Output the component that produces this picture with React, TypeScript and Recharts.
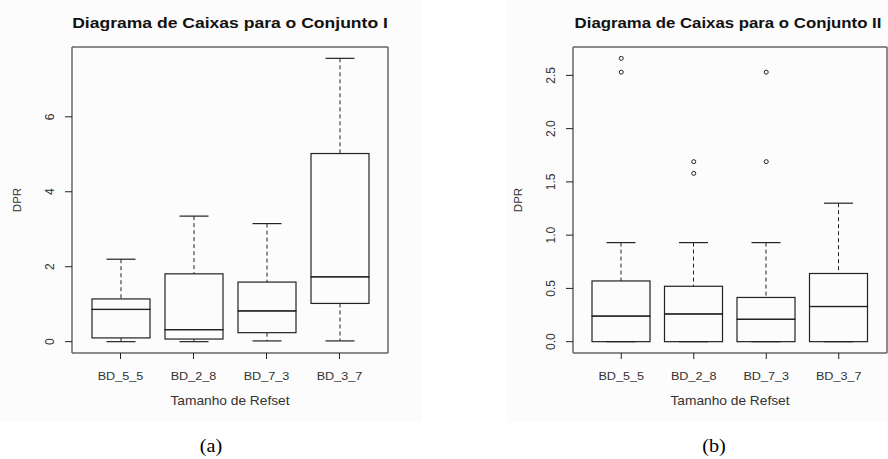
import { Bar, ComposedChart, Label, Line, XAxis, YAxis } from 'recharts';

const categories = ['BD_5_5', 'BD_2_8', 'BD_7_3', 'BD_3_7'];

// Conjunto I
const minI = [0.0, 0.0, 0.02, 0.02];
const q1I = [0.1, 0.07, 0.24, 1.02];
const medianI = [0.86, 0.32, 0.82, 1.73];
const q3I = [1.14, 1.81, 1.59, 5.02];
const maxI = [2.2, 3.35, 3.15, 7.56];
const outliersI: number[][] = [[], [], [], []];
const ticksI = [0, 2, 4, 6];

// Conjunto II
const minII = [0, 0, 0, 0];
const q1II = [0, 0, 0, 0];
const medianII = [0.24, 0.26, 0.21, 0.33];
const q3II = [0.57, 0.52, 0.415, 0.64];
const maxII = [0.93, 0.93, 0.93, 1.3];
const outliersII: number[][] = [[2.66, 2.53], [1.69, 1.58], [2.53, 1.69], []];
const ticksII = [0, 0.5, 1, 1.5, 2, 2.5];

const INK = '#222';
const FRAME = '#666';
const TEXT = '#333';
const SANS = '"Liberation Sans", Arial, sans-serif';
const SX = 1.1;

function buildRows(mins: number[], q1s: number[], meds: number[], q3s: number[], maxs: number[], outs: number[][]) {
  return categories.map((name, i) => ({
    name,
    base: mins[i],
    lowWhisker: q1s[i] - mins[i],
    lowerBox: meds[i] - q1s[i],
    upperBox: q3s[i] - meds[i],
    highWhisker: maxs[i] - q3s[i],
    out1: outs[i][0] ?? null,
    out2: outs[i][1] ?? null,
  }));
}

// R style range: data extent padded by 4% on each side
function rDomain(mins: number[], maxs: number[], outs: number[][]): [number, number] {
  const all = [...mins, ...maxs, ...outs.flat()];
  const lo = Math.min(...all);
  const hi = Math.max(...all);
  const pad = (hi - lo) * 0.04;
  return [lo - pad, hi + pad];
}

const LowWhisker = (p: any) => {
  const cx = p.x + p.width / 2;
  const bottom = p.y + p.height;
  return (
    <g>
      <line x1={cx} x2={cx} y1={p.y} y2={bottom} stroke={INK} strokeDasharray="4 3" />
      <line x1={cx - p.width / 4} x2={cx + p.width / 4} y1={bottom} y2={bottom} stroke={INK} strokeWidth={1.2} />
    </g>
  );
};

const HighWhisker = (p: any) => {
  const cx = p.x + p.width / 2;
  return (
    <g>
      <line x1={cx} x2={cx} y1={p.y} y2={p.y + p.height} stroke={INK} strokeDasharray="4 3" />
      <line x1={cx - p.width / 4} x2={cx + p.width / 4} y1={p.y} y2={p.y} stroke={INK} strokeWidth={1.2} />
    </g>
  );
};

const BoxPart = (p: any) => (
  <rect x={p.x} y={p.y} width={p.width} height={Math.max(p.height, 0)} fill="none" stroke={INK} strokeWidth={1.2} />
);

const OutlierDot = (p: any) => {
  if (p.cy == null || p.value == null || Number.isNaN(p.cy)) return <g key={p.key} />;
  return <circle key={p.key} cx={p.cx} cy={p.cy} r={2} fill="none" stroke={INK} strokeWidth={1} />;
};

const XTick = (p: any) => (
  <text
    transform={`translate(${p.x},${p.y}) scale(${SX},1)`}
    textAnchor="middle"
    fontSize={11.5}
    fontFamily={SANS}
    fill={TEXT}
  >
    {p.payload.value}
  </text>
);

function makeYTick(format: (v: number) => string) {
  return (p: any) => (
    <text
      x={p.x}
      y={p.y}
      transform={`rotate(-90, ${p.x}, ${p.y})`}
      textAnchor="middle"
      fontSize={12}
      fontFamily={SANS}
      fill={TEXT}
    >
      {format(p.payload.value)}
    </text>
  );
}

const DprLabel = (p: any) => {
  const vb = p.viewBox || {};
  const x = vb.x + vb.width - 51;
  const y = vb.y + vb.height / 2;
  return (
    <text x={x} y={y} transform={`rotate(-90, ${x}, ${y})`} textAnchor="middle" fontSize={11.5} fontFamily={SANS} fill={TEXT}>
      DPR
    </text>
  );
};

const XTitle = (p: any) => {
  const vb = p.viewBox || {};
  const x = vb.x + vb.width / 2;
  const y = vb.y + 52;
  return (
    <text transform={`translate(${x},${y}) scale(${SX},1)`} textAnchor="middle" fontSize={12.5} fontFamily={SANS} fill={TEXT}>
      Tamanho de Refset
    </text>
  );
};

interface PanelProps {
  rows: ReturnType<typeof buildRows>;
  ticks: number[];
  domain: [number, number];
  format: (v: number) => string;
  left: number;
  marginLeft: number;
  marginRight: number;
}

function BoxPanel({ rows, ticks, domain, format, left, marginLeft, marginRight }: PanelProps) {
  return (
    <div style={{ position: 'absolute', left, top: 0 }}>
      <ComposedChart width={444} height={459} data={rows} margin={{ top: 46, right: marginRight, bottom: 46, left: marginLeft }}>
        <XAxis
          dataKey="name"
          type="category"
          height={60}
          padding={{ left: 12, right: 12 }}
          axisLine={{ stroke: FRAME, strokeWidth: 1.5 }}
          tickLine={{ stroke: INK }}
          tickSize={6}
          tickMargin={21}
          tick={<XTick />}
          interval={0}
        >
          <Label content={<XTitle />} />
        </XAxis>
        <XAxis
          xAxisId="top"
          orientation="top"
          dataKey="name"
          type="category"
          height={1}
          tick={false}
          tickLine={false}
          axisLine={{ stroke: FRAME, strokeWidth: 1.5 }}
        />
        <YAxis
          type="number"
          width={72}
          domain={domain}
          allowDataOverflow
          ticks={ticks}
          interval={0}
          axisLine={{ stroke: FRAME, strokeWidth: 1.5 }}
          tickLine={{ stroke: INK }}
          tickSize={7}
          tickMargin={10.5}
          tick={makeYTick(format)}
        >
          <Label content={<DprLabel />} />
        </YAxis>
        <YAxis
          yAxisId="right"
          orientation="right"
          type="number"
          width={1}
          domain={domain}
          allowDataOverflow
          tick={false}
          tickLine={false}
          axisLine={{ stroke: FRAME, strokeWidth: 1.5 }}
        />
        <Bar dataKey="base" stackId="box" barSize={58} fill="none" isAnimationActive={false} />
        <Bar dataKey="lowWhisker" stackId="box" barSize={58} shape={<LowWhisker />} isAnimationActive={false} />
        <Bar dataKey="lowerBox" stackId="box" barSize={58} shape={<BoxPart />} isAnimationActive={false} />
        <Bar dataKey="upperBox" stackId="box" barSize={58} shape={<BoxPart />} isAnimationActive={false} />
        <Bar dataKey="highWhisker" stackId="box" barSize={58} shape={<HighWhisker />} isAnimationActive={false} />
        <Line dataKey="out1" stroke="none" dot={<OutlierDot />} activeDot={false} legendType="none" isAnimationActive={false} />
        <Line dataKey="out2" stroke="none" dot={<OutlierDot />} activeDot={false} legendType="none" isAnimationActive={false} />
        {/* invisible series that binds the frame axes (top / right) */}
        <Line xAxisId="top" yAxisId="right" dataKey="base" stroke="none" dot={false} activeDot={false} legendType="none" isAnimationActive={false} />
      </ComposedChart>
    </div>
  );
}

const rowsI = buildRows(minI, q1I, medianI, q3I, maxI, outliersI);
const rowsII = buildRows(minII, q1II, medianII, q3II, maxII, outliersII);

export default function App() {
  return (
    <div style={{ position: 'absolute', left: 0, top: 0, width: 888, height: 459, background: '#fff', overflow: 'hidden' }}>
      <svg width={888} height={459} style={{ position: 'absolute', left: 0, top: 0 }}>
        <rect x={0} y={0} width={422} height={422} fill="#fcfcfc" />
        <rect x={507} y={0} width={381} height={422} fill="#fcfcfc" />
      </svg>
      <BoxPanel
        rows={rowsI}
        ticks={ticksI}
        domain={rDomain(minI, maxI, outliersI)}
        format={(v) => String(v)}
        left={0}
        marginLeft={0}
        marginRight={55}
      />
      <BoxPanel
        rows={rowsII}
        ticks={ticksII}
        domain={rDomain(minII, maxII, outliersII)}
        format={(v) => v.toFixed(1)}
        left={444}
        marginLeft={57}
        marginRight={0}
      />
      <svg width={888} height={459} style={{ position: 'absolute', left: 0, top: 0, pointerEvents: 'none' }}>
        <text transform={`translate(230,28) scale(1.17,1)`} textAnchor="middle" fontSize={15} fontWeight="bold" fontFamily={SANS} fill="#111">
          Diagrama de Caixas para o Conjunto I
        </text>
        <text transform={`translate(728,28) scale(1.12,1)`} textAnchor="middle" fontSize={15} fontWeight="bold" fontFamily={SANS} fill="#111">
          Diagrama de Caixas para o Conjunto II
        </text>
        <text transform={`translate(211,452) scale(1.12,1)`} textAnchor="middle" fontSize={18} fontFamily='"Liberation Serif", "Times New Roman", serif' fill="#000">
          (a)
        </text>
        <text transform={`translate(714,452) scale(1.12,1)`} textAnchor="middle" fontSize={18} fontFamily='"Liberation Serif", "Times New Roman", serif' fill="#000">
          (b)
        </text>
      </svg>
    </div>
  );
}
